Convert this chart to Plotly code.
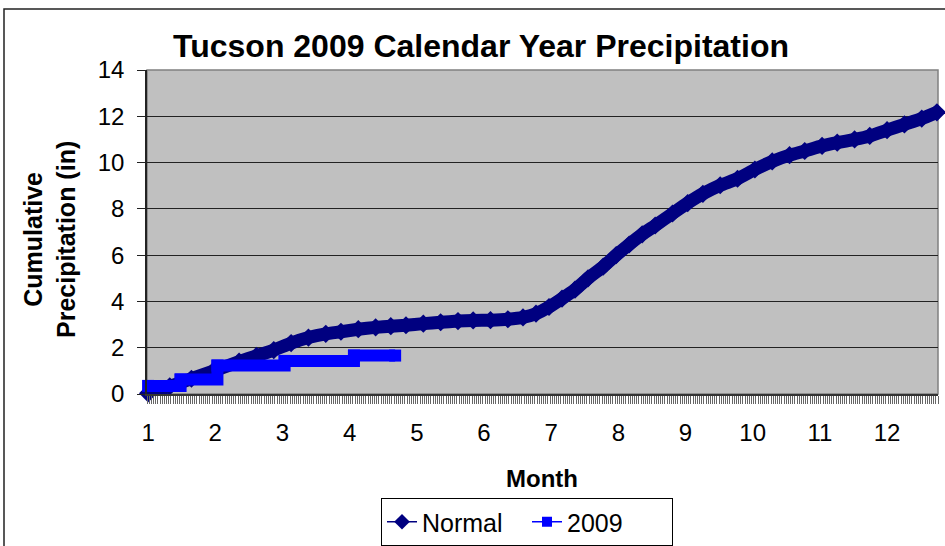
import plotly.graph_objects as go

# ---- data ----
month_labels = ["1", "2", "3", "4", "5", "6", "7", "8", "9", "10", "11", "12"]
month_label_days = [0, 31, 62, 93, 124, 155, 186, 217, 248, 279, 310, 341]

normal_days = [0, 10, 20, 30, 42, 50, 58, 66, 74, 82, 89, 97, 105, 112, 119,
               127, 135, 143, 150, 158, 166, 173, 179, 185, 191, 197, 203,
               210, 216, 222, 228, 234, 242, 249, 256, 264, 272, 280, 288,
               296, 303, 311, 318, 326, 333, 341, 349, 357, 364]
normal_vals = [0.03, 0.33, 0.66, 0.99, 1.40, 1.65, 1.90, 2.20, 2.44, 2.60, 2.69,
               2.80, 2.88, 2.93, 2.97, 3.04, 3.10, 3.15, 3.18, 3.19, 3.23,
               3.31, 3.47, 3.76, 4.12, 4.51, 5.00, 5.50, 6.00, 6.46, 6.90,
               7.28, 7.80, 8.25, 8.65, 9.02, 9.30, 9.70, 10.05, 10.32, 10.50,
               10.72, 10.86, 11.00, 11.15, 11.40, 11.65, 11.90, 12.17]

y2009_days = [0, 15, 32, 63, 95, 114]
y2009_vals = [0.35, 0.63, 1.23, 1.43, 1.66, 1.66]

NAVY = "#000080"
BLUE = "#0000FF"
FONT = "Liberation Sans, Arial, sans-serif"

W, H = 945, 546
L, R, T, B = 147, 938, 70, 394
pw, ph = R - L, B - T


def px_x(px):
    return (px - L) / pw


def px_y(py):
    return (B - py) / ph


fig = go.Figure()

fig.add_trace(go.Scatter(
    x=normal_days, y=normal_vals, mode="lines+markers",
    line=dict(color=NAVY, width=13, shape="spline", smoothing=0.4),
    marker=dict(symbol="diamond", size=14, color=NAVY),
    cliponaxis=False, showlegend=False, name="Normal"))

fig.add_trace(go.Scatter(
    x=y2009_days, y=y2009_vals, mode="lines+markers",
    line=dict(color=BLUE, width=12, shape="hv"),
    marker=dict(symbol="square", size=12, color=BLUE),
    cliponaxis=False, showlegend=False, name="2009"))

# legend-only traces
fig.add_trace(go.Scatter(
    x=[None], y=[None], mode="lines+markers", name="Normal", xaxis="x2",
    line=dict(color=NAVY, width=1.5),
    marker=dict(symbol="diamond", size=12, color=NAVY)))
fig.add_trace(go.Scatter(
    x=[None], y=[None], mode="lines+markers", name="2009", xaxis="x2",
    line=dict(color=BLUE, width=1.5),
    marker=dict(symbol="square", size=10, color=BLUE)))

fig.update_layout(
    width=W, height=H,
    margin=dict(l=L, r=W - R, t=T, b=H - B, autoexpand=False),
    paper_bgcolor="white", plot_bgcolor="#C0C0C0",
    font=dict(family=FONT, color="black", size=24),
    title=dict(text="<b>Tucson 2009 Calendar Year Precipitation</b>",
               font=dict(family=FONT, size=32, color="black"),
               x=px_x(481), xref="paper", xanchor="center",
               y=1 - 46 / H, yref="container", yanchor="middle"),
    xaxis=dict(range=[-0.5, 364.5], tickmode="linear", tick0=-0.5, dtick=1,
               showticklabels=False, ticks="outside", ticklen=8,
               tickcolor="#666666", tickwidth=1, showgrid=False,
               zeroline=False, showline=True, linecolor="#333333",
               linewidth=1.5),
    xaxis2=dict(range=[-0.5, 364.5], overlaying="x", matches="x",
                anchor="y", side="bottom",
                tickmode="array", tickvals=month_label_days,
                ticktext=month_labels, ticks="", showgrid=False,
                zeroline=False, showline=False,
                tickfont=dict(size=24), ticklabelstandoff=22),
    yaxis=dict(range=[0, 14], tickmode="linear", tick0=0, dtick=2,
               ticks="outside", ticklen=8, tickcolor="#222222",
               showgrid=True, gridcolor="#222222", gridwidth=1,
               zeroline=False, showline=True, linecolor="#222222",
               linewidth=1.5, tickfont=dict(size=24),
               ticklabelstandoff=8),
    legend=dict(orientation="h", x=px_x(527), xanchor="center",
                y=px_y(498), yanchor="top", bgcolor="white",
                bordercolor="black", borderwidth=1,
                font=dict(size=25, family=FONT), itemwidth=30,
                entrywidth=100),
    showlegend=True,
)

fig.add_annotation(text="<b>Month</b>", xref="paper", yref="paper",
                   x=px_x(542), y=px_y(478), showarrow=False,
                   font=dict(size=24, family=FONT), xanchor="center",
                   yanchor="middle")
fig.add_annotation(text="<b>Cumulative<br>Precipitation (in)</b>",
                   xref="paper", yref="paper", x=px_x(49), y=px_y(240),
                   showarrow=False, textangle=-90,
                   font=dict(size=25, family=FONT), xanchor="center",
                   yanchor="middle")

# plot area border (top/right gray)
fig.add_shape(type="rect", xref="paper", yref="paper", x0=0, x1=1, y0=0,
              y1=1, line=dict(color="#808080", width=1.5), layer="below")
# chart outer border
fig.add_shape(type="rect", xref="paper", yref="paper", x0=px_x(4),
              x1=px_x(960), y0=px_y(570), y1=px_y(9),
              line=dict(color="#222222", width=1.5))

fig.write_html(
    "out.html",
    config={"displayModeBar": False},
    post_script="document.body.style.margin='0';"
                "document.body.style.overflow='hidden';")
